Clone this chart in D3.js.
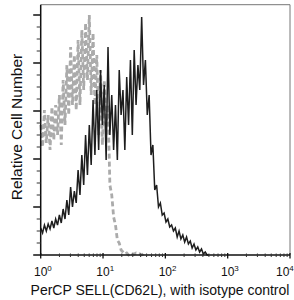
<!DOCTYPE html>
<html>
<head>
<meta charset="utf-8">
<script src="https://cdn.jsdelivr.net/npm/d3@7"></script>
<style>
  body { margin: 0; background: #fff; }
  svg { display: block; font-family: "Liberation Sans", Arial, sans-serif; }
</style>
</head>
<body>
<script>
// histogram bins: log10 start and width
let binStart = 0,
    binWidth = 0.03

// SELL (CD62L) stained sample
let sampleCounts = [
  27, 22, 30, 24, 31, 26, 34, 27, 36, 30,
  40, 32, 46, 36, 55, 40, 68, 48, 64, 52,
  85, 60, 100, 70, 120, 80, 130, 90, 155, 100,
  165, 105, 185, 130, 170, 95, 208, 120, 160, 105,
  150, 95, 185, 140, 165, 105, 178, 130, 195, 120,
  205, 150, 190, 165, 238, 170, 195, 140, 160, 100,
  110, 65, 70, 48, 52, 40, 42, 33, 36, 28,
  30, 24, 27, 18, 24, 16, 20, 13, 18, 11,
  14, 7, 11, 5, 8, 3, 6, 1, 3, 0, 0
]

// isotype control
let isotypeCounts = [
  130, 108, 145, 112, 140, 105, 148, 115, 150, 120,
  160, 110, 175, 130, 190, 140, 208, 150, 200, 145,
  215, 150, 225, 165, 232, 175, 240, 160, 222, 150,
  200, 120, 185, 110, 175, 130, 150, 70, 60, 38,
  30, 15, 12, 5, 3, 1, 2, 0, 2, 1,
  1, 2, 1, 1, 0, 1, 0
]

let xDecades = [0, 1, 2, 3, 4]
let yMajor = [0, 48, 96, 144, 192, 240]
let xLabel = "PerCP SELL(CD62L), with isotype control"
let yLabel = "Relative Cell Number"

let width = 294,
    height = 300,
    plotLeft = 40.7,
    plotRight = 290,
    plotTop = 4.7,
    plotBottom = 255

let svg = d3.select("body").append("svg")
    .attr("width", width)
    .attr("height", height)

let x = d3.scaleLog()
    .domain([1, 1e4])
    .range([plotLeft, plotRight])

let y = d3.scaleLinear()
    .domain([0, 250.3])
    .range([plotBottom, plotTop])

let toPoints = counts => counts.map((c, i) => [Math.pow(10, binStart + i * binWidth), c])

let line = d3.line()
    .x(d => x(d[0]))
    .y(d => y(d[1]))

svg.append("path")
    .datum(toPoints(isotypeCounts))
    .attr("d", line)
    .attr("fill", "none")
    .attr("stroke", "#ababab")
    .attr("stroke-width", 2.8)
    .attr("stroke-dasharray", "5,3")

svg.append("path")
    .datum(toPoints(sampleCounts))
    .attr("d", line)
    .attr("fill", "none")
    .attr("stroke", "#1e1e1e")
    .attr("stroke-width", 1.5)
    .attr("stroke-linejoin", "miter")

// frame
svg.append("path")
    .attr("d", `M${plotLeft},${plotTop}H${plotRight}V${plotBottom}`)
    .attr("fill", "none")
    .attr("stroke", "#777")
    .attr("stroke-width", 1)

svg.append("path")
    .attr("d", `M${plotLeft},${plotTop}V${plotBottom}H${plotRight}`)
    .attr("fill", "none")
    .attr("stroke", "#111")
    .attr("stroke-width", 1.5)

// y ticks
let yMinor = d3.range(0, 250, 12).filter(v => yMajor.indexOf(v) < 0)
svg.append("g").selectAll("line")
    .data(yMajor)
    .join("line")
    .attr("x1", plotLeft - 7.5).attr("x2", plotLeft)
    .attr("y1", d => y(d)).attr("y2", d => y(d))
    .attr("stroke", "#111").attr("stroke-width", 1.5)
svg.append("g").selectAll("line")
    .data(yMinor)
    .join("line")
    .attr("x1", plotLeft - 4).attr("x2", plotLeft)
    .attr("y1", d => y(d)).attr("y2", d => y(d))
    .attr("stroke", "#333").attr("stroke-width", 1)

// x ticks
let xMinor = []
xDecades.slice(0, -1).forEach(p => {
  for (let k = 2; k < 10; k++) xMinor.push(k * Math.pow(10, p))
})
svg.append("g").selectAll("line")
    .data(xDecades)
    .join("line")
    .attr("x1", d => x(Math.pow(10, d))).attr("x2", d => x(Math.pow(10, d)))
    .attr("y1", plotBottom - 2).attr("y2", plotBottom + 3.5)
    .attr("stroke", "#111").attr("stroke-width", 1.3)
svg.append("g").selectAll("line")
    .data(xMinor)
    .join("line")
    .attr("x1", d => x(d)).attr("x2", d => x(d))
    .attr("y1", plotBottom - 1.5).attr("y2", plotBottom + 2)
    .attr("stroke", "#333").attr("stroke-width", 1)

// x tick labels (last one pushed in from the right edge)
let labels = svg.append("g").selectAll("text")
    .data(xDecades)
    .join("text")
    .attr("x", d => Math.min(x(Math.pow(10, d)) - 6.7, width - 18))
    .attr("y", 276)
    .attr("font-size", 12)
    .attr("fill", "#111")
labels.append("tspan").text("10")
labels.append("tspan")
    .attr("dy", -5)
    .attr("font-size", 8)
    .text(d => d)

svg.append("text")
    .attr("x", 160)
    .attr("y", 295)
    .attr("text-anchor", "middle")
    .attr("font-size", 14)
    .attr("fill", "#111")
    .text(xLabel)

svg.append("text")
    .attr("transform", "translate(21.5,127) rotate(-90)")
    .attr("text-anchor", "middle")
    .attr("font-size", 15.5)
    .attr("fill", "#111")
    .text(yLabel)
</script>
</body>
</html>
